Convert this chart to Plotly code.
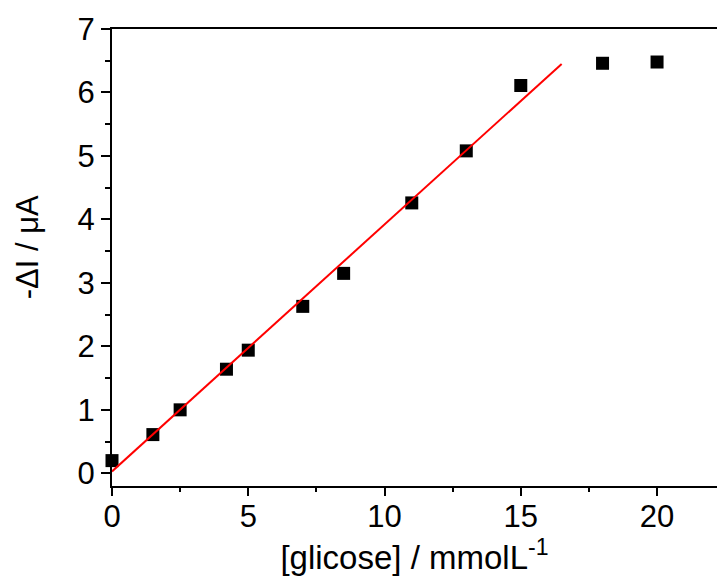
import plotly.graph_objects as go

glucose = [0, 1.5, 2.5, 4.2, 5, 7, 8.5, 11, 13, 15, 18, 20]
delta_i = [0.2, 0.61, 1.0, 1.64, 1.94, 2.63, 3.15, 4.26, 5.08, 6.11, 6.46, 6.48]
fit_x = [0, 16.5]
fit_y = [0.03, 6.45]

x_ticks = [0, 5, 10, 15, 20]
y_ticks = [0, 1, 2, 3, 4, 5, 6, 7]

FONT = "Liberation Sans, Arial, sans-serif"
X_RANGE = [0, 22.2]

fig = go.Figure()
fig.add_trace(go.Scatter(x=glucose, y=delta_i, mode="markers",
                         marker=dict(symbol="square", size=13, color="black"),
                         showlegend=False, cliponaxis=False))
fig.add_trace(go.Scatter(x=fit_x, y=fit_y, mode="lines",
                         line=dict(color="red", width=2), showlegend=False))
# invisible trace so the tick-only overlay axis is drawn
fig.add_trace(go.Scatter(x=fit_x, y=fit_y, xaxis="x2", mode="lines",
                         line=dict(width=0), opacity=0, showlegend=False, hoverinfo="skip"))

fig.update_layout(
    width=717, height=577, margin=dict(l=112, r=0, t=29, b=91),
    plot_bgcolor="white", paper_bgcolor="white",
    xaxis=dict(range=X_RANGE, tickvals=x_ticks, showgrid=False, zeroline=False,
               showline=True, linecolor="black", linewidth=2, mirror=True,
               ticks="outside", ticklen=2, tickwidth=2, tickcolor="black",
               tickfont=dict(family=FONT, size=31, color="black"),
               title=dict(text="[glicose] / mmolL<sup>-1</sup>",
                          font=dict(family=FONT, size=33, color="black"), standoff=6)),
    xaxis2=dict(range=X_RANGE, overlaying="x", anchor="y", side="bottom",
                tickvals=x_ticks, showticklabels=False, showgrid=False, zeroline=False,
                showline=False, ticks="outside", ticklen=9, tickwidth=2, tickcolor="black",
                minor=dict(ticks="outside", ticklen=5, tickwidth=2, tickcolor="black",
                           dtick=2.5, tick0=0)),
    yaxis=dict(range=[-0.2, 7], tickvals=y_ticks, showgrid=False, zeroline=False,
               showline=True, linecolor="black", linewidth=2, mirror=False,
               ticks="outside", ticklen=9, tickwidth=2, tickcolor="black",
               minor=dict(ticks="outside", ticklen=5, tickwidth=2, tickcolor="black",
                          dtick=0.5, tick0=0),
               tickfont=dict(family=FONT, size=31, color="black")),
    annotations=[dict(text="-ΔI / μA", textangle=-90, showarrow=False,
                      xref="paper", yref="paper", x=-0.1397, y=0.5235,
                      xanchor="center", yanchor="middle",
                      font=dict(family=FONT, size=31, color="black"))],
)

fig.write_html("out.html")
